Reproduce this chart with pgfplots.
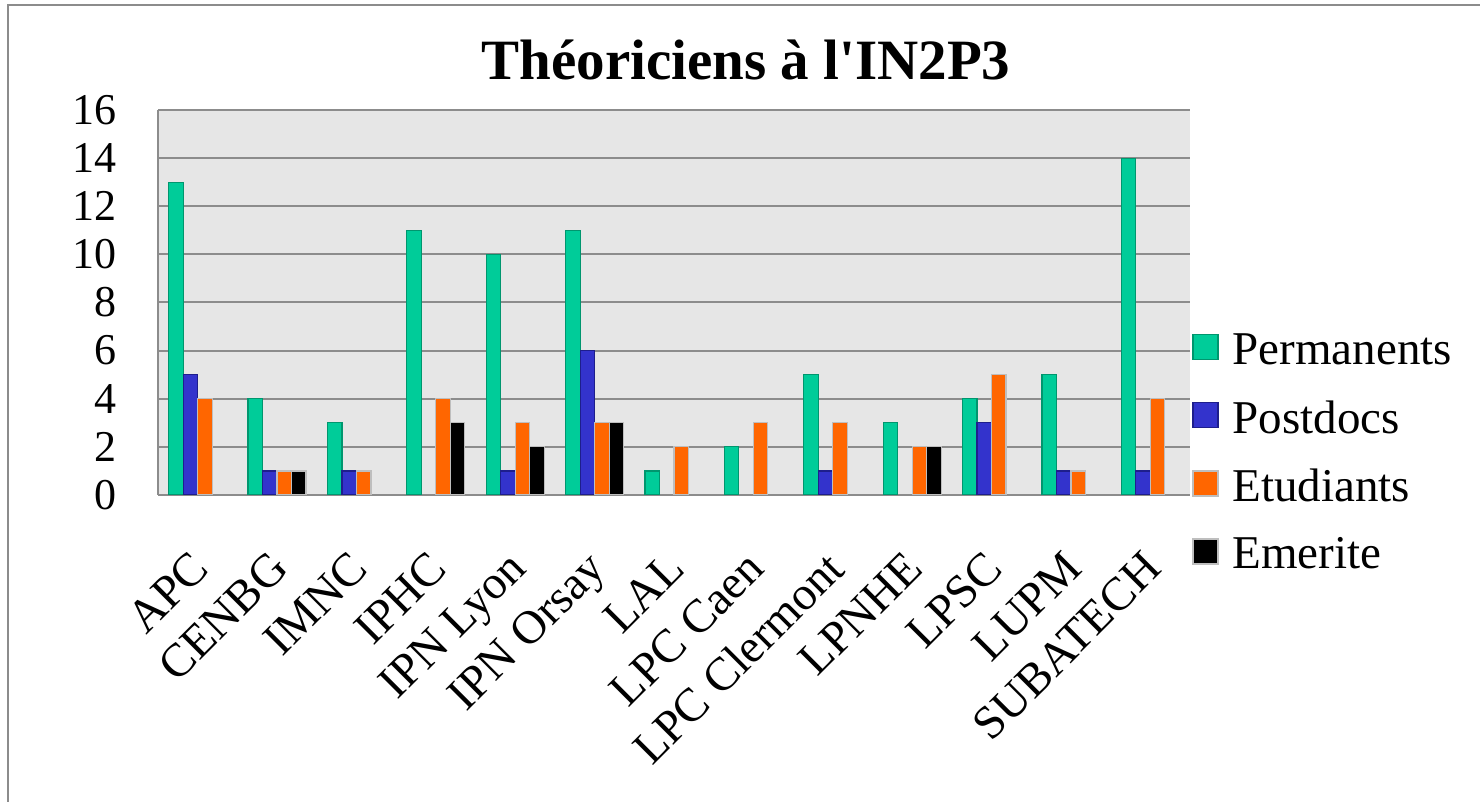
\documentclass[border=0pt]{standalone}
\usepackage{fontspec}
\setmainfont{Liberation Serif}
\usepackage{pgfplots}
\pgfplotsset{compat=1.18}
\definecolor{cperm}{RGB}{0,204,153}
\definecolor{cpermb}{RGB}{0,150,110}
\definecolor{cpost}{RGB}{51,51,204}
\definecolor{cpostb}{RGB}{30,30,140}
\definecolor{cetud}{RGB}{255,102,0}
\definecolor{clightb}{RGB}{190,190,190}
\definecolor{bgc}{RGB}{230,230,230}
\definecolor{gridc}{RGB}{140,140,140}
\begin{document}
\begin{tikzpicture}
\useasboundingbox (0,0) rectangle (740pt,401pt);
\draw[gridc, line width=1pt] (4pt,-10pt) -- (4pt,398.5pt) -- (760pt,398.5pt);
\node[anchor=base, font=\fontsize{28.5}{32}\selectfont\bfseries] at (373pt,361pt) {Théoriciens à l\textquotesingle IN2P3};
\begin{axis}[
  at={(79pt,153.5pt)}, anchor=south west,
  scale only axis, width=516pt, height=192.5pt,
  xmin=-0.5, xmax=12.5, ymin=0, ymax=16,
  ytick={0,2,...,16},
  xtick={0,...,12},
  xticklabels={APC,CENBG,IMNC,IPHC,IPN Lyon,IPN Orsay,LAL,LPC Caen,LPC Clermont,LPNHE,LPSC,LUPM,SUBATECH},
  major tick length=0pt,
  axis x line*=bottom, axis y line*=left,
  axis line style={draw=gridc, line width=1pt, -},
  axis background/.style={fill=bgc},
  ymajorgrids, grid style={draw=gridc, line width=1pt},
  /pgf/number format/assume math mode=true,
  ticklabel style={font=\fontsize{22}{26}\selectfont},
  yticklabel style={xshift=-17pt},
  xticklabel style={font=\fontsize{23.5}{27}\selectfont, xshift=-4.5pt, yshift=-22pt, rotate=45, anchor=north east},
  ybar=0pt, bar width=7.25pt,
  legend style={draw=none, fill=none, at={(1.002,0.43)}, anchor=north west,
    font=\fontsize{23.5}{27}\selectfont, row sep=12.5pt, inner sep=0pt,
    /tikz/every odd column/.append style={column sep=5pt}},
  legend cell align=left,
  legend image code/.code={\draw[#1,/tikz/.cd,line width=0.6pt] (0pt,-4.5pt) rectangle (12.5pt,8pt);},
]
\addplot[fill=cperm, draw=cpermb, line width=0.6pt] coordinates {(0,13) (1,4) (2,3) (3,11) (4,10) (5,11) (6,1) (7,2) (8,5) (9,3) (10,4) (11,5) (12,14)};
\addplot[fill=cpost, draw=cpostb, line width=0.6pt] coordinates {(0,5) (1,1) (2,1) (4,1) (5,6) (8,1) (10,3) (11,1) (12,1)};
\addplot[fill=cetud, draw=clightb, line width=0.6pt] coordinates {(0,4) (1,1) (2,1) (3,4) (4,3) (5,3) (6,2) (7,3) (8,3) (9,2) (10,5) (11,1) (12,4)};
\addplot[fill=black, draw=clightb, line width=0.6pt] coordinates {(1,1) (3,3) (4,2) (5,3) (9,2)};
\legend{Permanents,Postdocs,Etudiants,Emerite}
\end{axis}
\end{tikzpicture}
\end{document}
